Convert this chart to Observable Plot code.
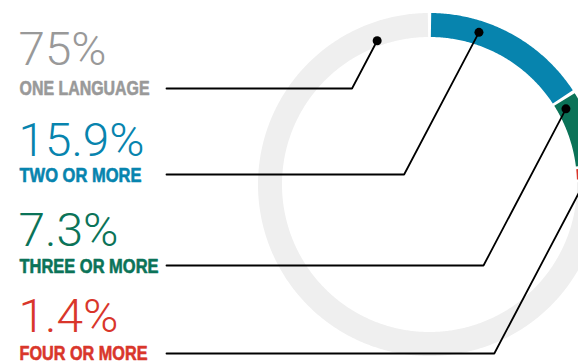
<!DOCTYPE html>
<html>
<head>
<meta charset="utf-8">
<script src="https://cdn.jsdelivr.net/npm/d3@7"></script>
<script src="https://cdn.jsdelivr.net/npm/@observablehq/plot@0.6"></script>
<style>
  html, body { margin: 0; padding: 0; background: #fff; overflow: hidden; }
  #chart { width: 578px; height: 361px; overflow: hidden; }
</style>
</head>
<body>
<div id="chart"></div>
<script>
// ---- data ----
const categories = ["ONE LANGUAGE", "TWO OR MORE", "THREE OR MORE", "FOUR OR MORE"];
const percents = [75, 15.9, 7.3, 1.4];
const valueLabels = ["75%", "15.9%", "7.3%", "1.4%"];
const textColors = ["#999999", "#0784ae", "#0b7358", "#d9362b"];
const ringColors = ["#efefef", "#0784ae", "#0b7358", "#d9362b"];

// ---- layout ----
const W = 578, H = 361;
const cx = 429, cy = 184, rMid = 159.5, ringWidth = 24, gapDeg = 1.1;
const leaderY = [88, 174, 265, 353];
const numberY = [64, 155, 245, 331];
const labelY = [94, 181, 272, 359];
const numberWidth = [88, 126, 100, 100];
const labelWidth = [130, 122, 139, 128];
const dotAngle = [-20, 18, 61, 86];
const dotRadius = [153, 160, 156, 160];
const leaderSlope = 1.9;
const leaderStartX = 166;

const rad = d => d * Math.PI / 180;
const polar = (a, r) => ({x: cx + r * Math.sin(rad(a)), y: cy - r * Math.cos(rad(a))});

// ring segments: colored series clockwise from 12 o'clock, grey remainder
const segs = [];
let acc = 0;
for (let i = 1; i < percents.length; i++) {
  segs.push({i, a0: acc * 3.6, a1: (acc + percents[i]) * 3.6});
  acc += percents[i];
}
segs.push({i: 0, a0: acc * 3.6, a1: 360});

const ringMarks = segs.map(s => {
  const pts = [];
  const a0 = s.a0 + gapDeg / 2, a1 = s.a1 - gapDeg / 2;
  const n = Math.max(2, Math.ceil((a1 - a0) / 0.5));
  for (let k = 0; k <= n; k++) pts.push(polar(a0 + (a1 - a0) * k / n, rMid));
  return Plot.line(pts, {x: "x", y: "y", stroke: ringColors[s.i], strokeWidth: ringWidth,
    strokeLinecap: "butt", strokeLinejoin: "round", curve: "linear"});
});

const dots = categories.map((c, i) => ({...polar(dotAngle[i], dotRadius[i]), i}));
const leaders = [];
dots.forEach((d, i) => {
  const elbowX = d.x - (leaderY[i] - d.y) / leaderSlope;
  leaders.push({x: leaderStartX, y: leaderY[i], i});
  leaders.push({x: elbowX, y: leaderY[i], i});
  leaders.push({x: d.x, y: d.y, i});
});

const rows = categories.map((c, i) => ({cat: c, val: valueLabels[i], i}));

const chart = Plot.plot({
  width: W, height: H, margin: 0,
  style: {background: "white", overflow: "hidden"},
  x: {domain: [0, W], range: [0, W], axis: null},
  y: {domain: [0, H], range: [0, H], axis: null},
  marks: [
    ...ringMarks,
    Plot.line(leaders, {x: "x", y: "y", z: "i", stroke: "#000", strokeWidth: 1.8, strokeLinejoin: "miter"}),
    Plot.dot(dots, {x: "x", y: "y", r: 4.5, fill: "#000"}),
    Plot.text(rows, {x: () => 18, y: d => numberY[d.i], text: "val", fill: d => textColors[d.i],
      textAnchor: "start", lineAnchor: "bottom", fontSize: 46, fontWeight: 300,
      fontFamily: "Roboto, 'Liberation Sans', sans-serif"}),
    Plot.text(rows, {x: () => 19, y: d => labelY[d.i], text: "cat", fill: d => textColors[d.i],
      stroke: d => textColors[d.i], strokeWidth: 0.6,
      textAnchor: "start", lineAnchor: "bottom", fontSize: 19.5, fontWeight: "bold",
      fontFamily: "'Liberation Sans', Arial, sans-serif"})
  ],
  color: {type: "identity"}
});
// fit text widths to the reference's condensed type
const textGroups = d3.select(chart).selectAll("g[aria-label='text']").nodes();
d3.select(textGroups[0]).selectAll("text").each(function(d, k) {
  d3.select(this).attr("textLength", numberWidth[k]).attr("lengthAdjust", "spacingAndGlyphs");
});
d3.select(textGroups[1]).selectAll("text").each(function(d, k) {
  d3.select(this).attr("textLength", labelWidth[k]).attr("lengthAdjust", "spacingAndGlyphs");
});
document.getElementById("chart").appendChild(chart);
</script>
</body>
</html>
